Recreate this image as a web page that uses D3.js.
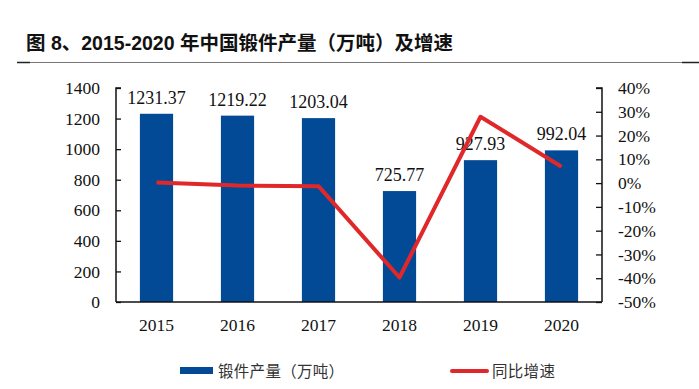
<!DOCTYPE html>
<html>
<head>
<meta charset="utf-8">
<script src="https://cdn.jsdelivr.net/npm/d3@7"></script>
<style>
  body { margin: 0; background: #fff; }
  svg { display: block; }
</style>
</head>
<body>
<div id="chart"></div>
<script>
const years = ["2015", "2016", "2017", "2018", "2019", "2020"]
const output = [1231.37, 1219.22, 1203.04, 725.77, 927.93, 992.04]
const growth = [0.3, -1.0, -1.3, -39.7, 27.9, 6.9]
const leftTicks = [0, 200, 400, 600, 800, 1000, 1200, 1400]
const rightTicks = [-50, -40, -30, -20, -10, 0, 10, 20, 30, 40]

const width = 699
const height = 389
const serif = "'Liberation Serif', 'Times New Roman', serif"
const cjk = "'Noto Sans CJK SC', sans-serif"
const blue = "#034a96"
const red = "#e0282a"

const svg = d3.select("#chart")
    .append("svg")
    .attr("width", width)
    .attr("height", height)

// title + rule
svg.append("text")
    .attr("x", 26)
    .attr("y", 50)
    .style("font-family", "'Liberation Sans', " + cjk)
    .style("font-weight", "bold")
    .style("font-size", "19.5px")
    .style("fill", "#111")
    .text("图 8、2015-2020 年中国锻件产量（万吨）及增速")

svg.append("line")
    .attr("x1", 17).attr("x2", 699)
    .attr("y1", 62.5).attr("y2", 62.5)
    .attr("stroke", "#777").attr("stroke-width", 1)
svg.append("line")
    .attr("x1", 17).attr("x2", 30)
    .attr("y1", 62.5).attr("y2", 62.5)
    .attr("stroke", "#222").attr("stroke-width", 1.5)
svg.append("line")
    .attr("x1", 682).attr("x2", 699)
    .attr("y1", 62.5).attr("y2", 62.5)
    .attr("stroke", "#222").attr("stroke-width", 1.5)

// plot area
const pLeft = 116, pRight = 602, pTop = 88, pBottom = 302

const x = d3.scaleBand().domain(years).range([pLeft, pRight]).paddingInner(0.59).paddingOuter(0.295)
const xc = d3.scaleBand().domain(years).range([pLeft, pRight])
const yL = d3.scaleLinear().domain([0, 1400]).range([pBottom, pTop])
const yR = d3.scaleLinear().domain([-50, 40]).range([pBottom, pTop])

// bars
svg.selectAll("rect.bar")
    .data(output)
    .enter()
    .append("rect")
    .attr("class", "bar")
    .attr("x", (d, i) => x(years[i]))
    .attr("y", d => yL(d))
    .attr("width", x.bandwidth())
    .attr("height", d => pBottom - yL(d))
    .attr("fill", blue)

// bar labels
svg.selectAll("text.val")
    .data(output)
    .enter()
    .append("text")
    .attr("x", (d, i) => xc(years[i]) + xc.bandwidth() / 2)
    .attr("y", d => yL(d) - 10)
    .attr("text-anchor", "middle")
    .attr("font-family", serif)
    .attr("font-size", 18)
    .attr("fill", "#111")
    .text(d => d.toFixed(2))

// axes
const axL = d3.axisLeft(yL).tickValues(leftTicks).tickSize(-5).tickPadding(16)
    .tickFormat(d3.format("d"))
const gL = svg.append("g").attr("transform", `translate(${pLeft},0)`).call(axL)
const axR = d3.axisRight(yR).tickValues(rightTicks).tickSize(-6).tickPadding(16)
    .tickFormat(d => d + "%")
const gR = svg.append("g").attr("transform", `translate(${pRight},0)`).call(axR)
const axB = d3.axisBottom(xc).tickSize(0).tickPadding(17)
const gB = svg.append("g").attr("transform", `translate(0,${pBottom})`).call(axB)

;[gL, gR, gB].forEach(g => {
    g.attr("font-family", serif).attr("font-size", 17.5)
    g.select(".domain").attr("stroke", "#111").attr("stroke-width", 1.5)
    g.selectAll(".tick line").attr("stroke", "#111").attr("stroke-width", 1.3)
    g.selectAll("text").attr("fill", "#111")
})
gL.select(".domain").attr("d", `M5,${pTop}H0V${pBottom}`)
gR.select(".domain").attr("d", `M-6,${pTop}H0V${pBottom}`)
gB.select(".domain").attr("d", `M${pLeft},0H${pRight}`)
gR.selectAll("text").attr("text-anchor", "start")

// growth line
const line = d3.line()
    .x((d, i) => xc(years[i]) + xc.bandwidth() / 2)
    .y(d => yR(d))

svg.append("path")
    .datum(growth)
    .attr("d", line)
    .attr("fill", "none")
    .attr("stroke", red)
    .attr("stroke-width", 4)
    .attr("stroke-linejoin", "round")

// legend
const lg = svg.append("g").style("font-family", cjk).style("font-size", "15.5px").style("fill", "#333")
lg.append("rect").attr("x", 180).attr("y", 367).attr("width", 33).attr("height", 7).attr("fill", blue)
lg.append("text").attr("x", 218).attr("y", 377).style("letter-spacing", "0.3px").text("锻件产量（万吨）")
lg.append("line").attr("x1", 452).attr("x2", 487).attr("y1", 371).attr("y2", 371)
    .attr("stroke", red).attr("stroke-width", 4).attr("stroke-linecap", "round")
lg.append("text").attr("x", 492).attr("y", 377).style("letter-spacing", "0.3px").text("同比增速")
</script>
</body>
</html>
